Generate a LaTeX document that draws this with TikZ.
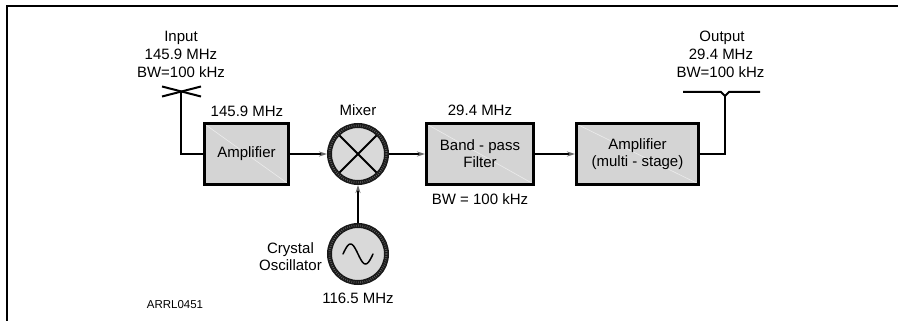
\documentclass[tikz,border=0pt]{standalone}
\usepackage{fontspec}
\setmainfont{Liberation Sans}
\usetikzlibrary{arrows.meta,calc}
\tikzset{
  blk/.style={draw=black, line width=3pt, fill=black!17, minimum height=60pt, inner sep=0pt, align=center,
    path picture={\draw[white!85!gray, line width=0.6pt] (path picture bounding box.north west) -- (path picture bounding box.south east);}},
  rnd/.style={circle, draw=black!90, line width=5pt, fill=black!15, minimum size=57pt, inner sep=0pt},
  lbl/.style={anchor=base, inner sep=0pt},
  wire/.style={line width=1.6pt, draw=black},
  arr/.style={wire, -{Stealth[length=8pt,width=5pt,color=black!60]}},
  every node/.style={font=\fontsize{15}{17}\selectfont}
}
\begin{document}
\begin{tikzpicture}[x=1pt,y=-1pt]
\useasboundingbox (0,0) rectangle (898,321);
% frame
\draw[line width=2.5pt] (7,321) -- (7,6) -- (898,6);

% blocks
\node[blk, minimum width=84pt] (amp1) at (246.5,154) {Amplifier};
\node[rnd] (mix) at (358,154) {};
\node[blk, minimum width=107pt] (bpf) at (480,154) {Band - pass\\Filter};
\node[blk, minimum width=122pt] (amp2) at (637.5,154) {Amplifier\\(multi - stage)};
\node[rnd] (osc) at (358,254) {};

% circle textures
\foreach \c in {mix,osc}{
  \draw[black!60, line width=2pt, dash pattern=on 0.6pt off 1.6pt] (\c.center) circle[radius=28.5pt];
}
% mixer cross
\draw[line width=2pt] ($(mix.center)+(45:26)$) -- ($(mix.center)+(225:26)$);
\draw[line width=2pt] ($(mix.center)+(135:26)$) -- ($(mix.center)+(315:26)$);
% sine
\draw[line width=1.5pt, line cap=round] plot[domain=0:360, samples=50] ({343+\x/12}, {254-10*sin(\x)});

% antennas
\coordinate (ina) at (181,91.5);
\draw[line width=2pt] (162,86.5) -- (201,96.5);
\draw[line width=2pt] (162,96.5) -- (201,86.5);
\coordinate (outa) at (725,96);
\draw[line width=2pt] (683,92) -- (721,92) -- (outa) -- (729,92) -- (760,92);

% connectors
\draw[wire] (ina) |- (amp1.west);
\draw[arr] (amp1.east) -- (mix.west);
\draw[arr] (mix.east) -- (bpf.west);
\draw[arr] (bpf.east) -- (amp2.west);
\draw[arr] (osc.north) -- (mix.south);
\draw[wire] (amp2.east) -| (outa);

% labels
\node[lbl] (in1) at (181,42) {Input};
\node[lbl] (in2) at (181,60) {145.9 MHz};
\node[lbl] (in3) at (181,77.5) {BW=100 kHz};
\node[lbl] (out1) at (722,42) {Output};
\node[lbl] (out2) at (721,60) {29.4 MHz};
\node[lbl] (out3) at (720.5,77.5) {BW=100 kHz};
\node[lbl] (f1) at (247,117) {145.9 MHz};
\node[lbl] (mixl) at (358,116) {Mixer};
\node[lbl] (f2) at (480,116) {29.4 MHz};
\node[lbl] (bw) at (480,204) {BW = 100 kHz};
\node[lbl] (cr1) at (290.5,253) {Crystal};
\node[lbl] (cr2) at (290.5,270) {Oscillator};
\node[lbl] (f3) at (358,303) {116.5 MHz};
\node[lbl, font=\fontsize{11.5}{13}\selectfont] (id) at (175,308) {ARRL0451};
\end{tikzpicture}
\end{document}
